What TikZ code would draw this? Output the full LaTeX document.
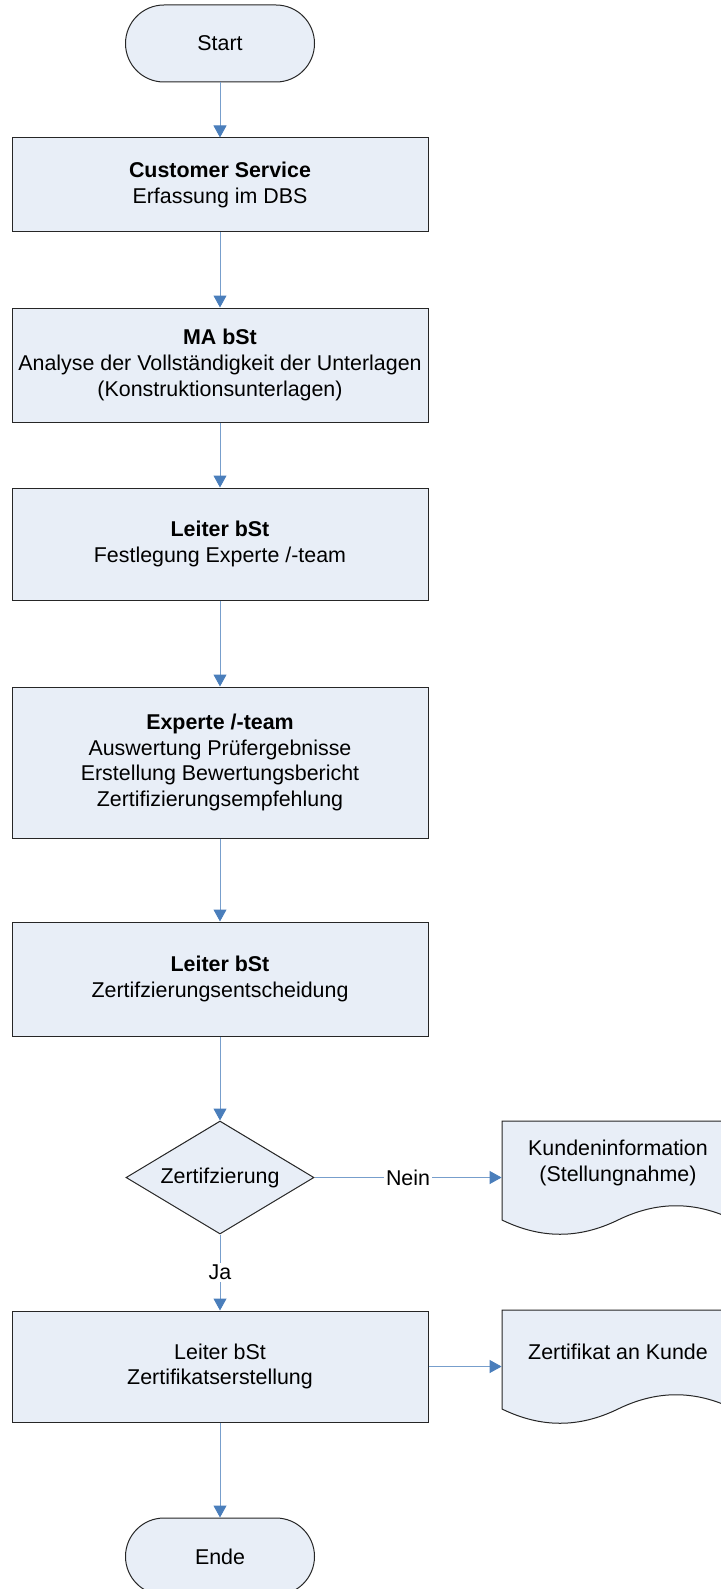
\documentclass[tikz,border=0pt]{standalone}
\usepackage{fontspec}
\setmainfont{Liberation Sans}
\usetikzlibrary{shapes.geometric,arrows.meta,backgrounds}

\definecolor{boxfill}{RGB}{232,238,247}
\definecolor{flowblue}{RGB}{74,126,187}

\tikzset{
  stepbox/.style={draw=black!85, line width=0.5pt, fill=boxfill, minimum width=208pt, align=center, inner sep=2pt},
  terminal/.style={draw=black!85, line width=0.5pt, fill=boxfill, rounded corners=19.25pt, minimum width=94.5pt, minimum height=38.5pt},
  decision/.style={diamond, draw=black!85, line width=0.5pt, fill=boxfill, minimum width=94pt, minimum height=56.5pt, aspect=1.66, inner sep=0pt},
  doctext/.style={minimum width=116pt, align=center, inner sep=0pt},
  docline/.style={draw=black!85, line width=0.5pt, fill=boxfill},
  flow/.style={draw=flowblue!75, line width=0.5pt, -{Triangle[width=6.5pt,length=6pt,color=flowblue]}},
  lbl/.style={fill=white, inner sep=1pt}
}

% document outline with wavy bottom, around a text node
\newcommand{\docoutline}[1]{%
  \begin{scope}[shift={(#1.center)}]
    \draw[docline] (-116,-42) -- (116,-42) -- (116,57) .. controls (77,38) and (39,38) .. (0,57) .. controls (-39,76) and (-77,76) .. (-116,57) -- cycle;
  \end{scope}}

\begin{document}
\begin{tikzpicture}[x=0.5pt, y=-0.5pt, font=\fontsize{10.7}{12.8}\selectfont]
    \useasboundingbox (0,0) rectangle (720,1589);

    \node[terminal] (start) at (220,43.5) {Start};
    \node[stepbox, minimum height=47pt] (cs) at (220,185) {\textbf{Customer Service}\\Erfassung im DBS};
    \node[stepbox, minimum height=57pt] (ma) at (220,365) {\textbf{MA bSt}\\Analyse der Vollständigkeit der Unterlagen\\(Konstruktionsunterlagen)};
    \node[stepbox, minimum height=56pt] (leiter) at (220,544) {\textbf{Leiter bSt}\\Festlegung Experte /-team};
    \node[stepbox, minimum height=75.5pt] (experte) at (220,762.5) {\textbf{Experte /-team}\\Auswertung Prüfergebnisse\\Erstellung Bewertungsbericht\\Zertifizierungsempfehlung};
    \node[stepbox, minimum height=57pt] (entscheid) at (220,979) {\textbf{Leiter bSt}\\Zertifzierungsentscheidung};
    \node[decision] (zert) at (220,1177.5) {Zertifzierung};
    \node[doctext] (kinfo) at (618,1163) {Kundeninformation\\(Stellungnahme)};
    \node[stepbox, minimum height=55.5pt] (erstell) at (220,1366.5) {Leiter bSt\\Zertifikatserstellung};
    \node[doctext] (kunde) at (618,1352) {Zertifikat an Kunde};
    \node[terminal] (ende) at (220,1556.5) {Ende};

    \begin{pgfonlayer}{background}
        \docoutline{kinfo}
        \docoutline{kunde}
    \end{pgfonlayer}

    \draw[flow] (start) -- (cs);
    \draw[flow] (cs) -- (ma);
    \draw[flow] (ma) -- (leiter);
    \draw[flow] (leiter) -- (experte);
    \draw[flow] (experte) -- (entscheid);
    \draw[flow] (entscheid) -- (zert);
    \draw[flow] (zert.east) -- node[lbl] {Nein} (zert.east -| kinfo.west);
    \draw[flow] (zert) -- node[lbl] {Ja} (erstell);
    \draw[flow] (erstell.east) -- (erstell.east -| kunde.west);
    \draw[flow] (erstell) -- (ende);
\end{tikzpicture}
\end{document}
